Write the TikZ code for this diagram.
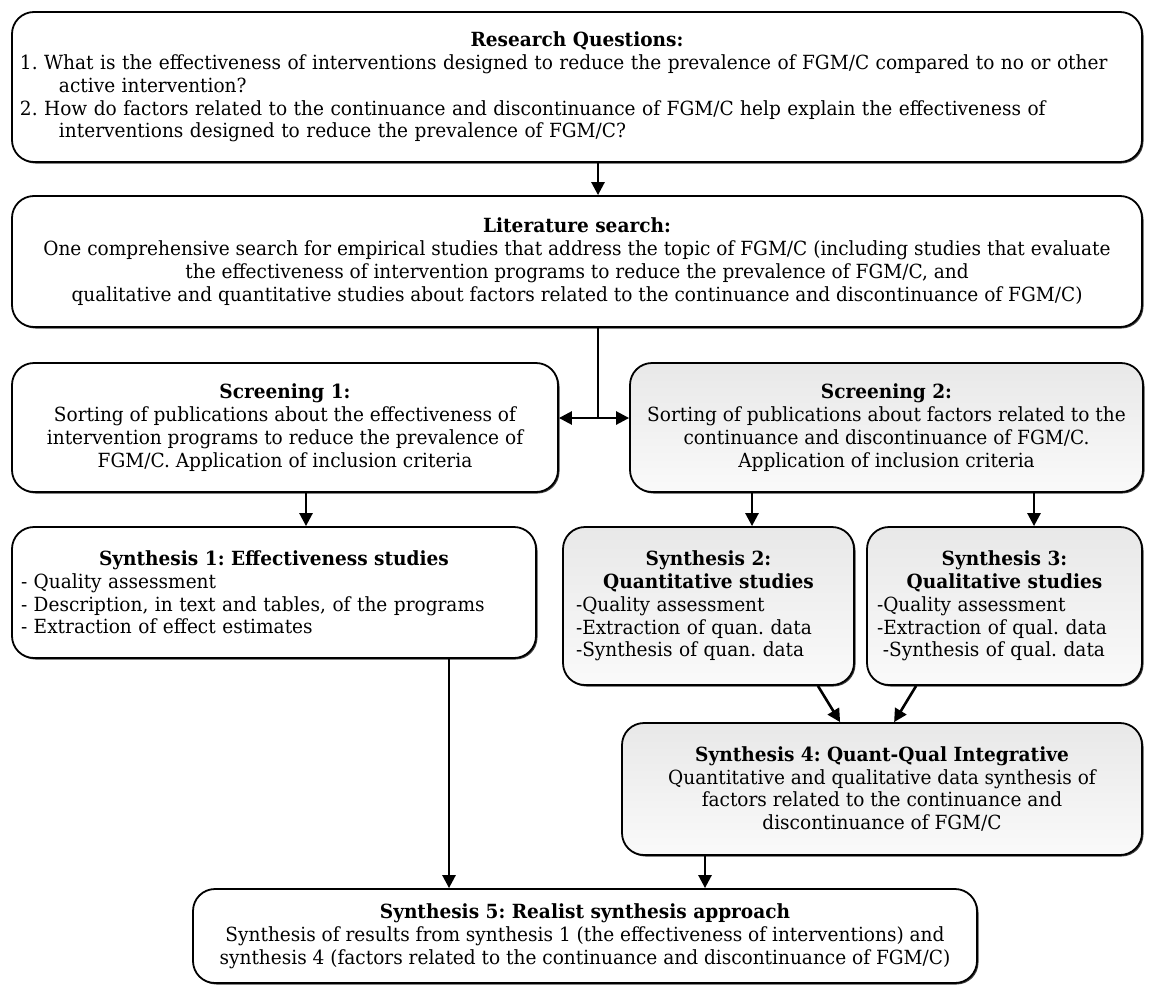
\documentclass[tikz,border=0pt]{standalone}
\usepackage{fontspec}
\setmainfont[FakeStretch=0.95]{DejaVu Serif}
\usetikzlibrary{arrows.meta,shadows,calc}
\newcommand\fsz{\fontsize{19.5}{22.8}\selectfont\frenchspacing}
\begin{document}
\begin{tikzpicture}[x=1pt,y=-1pt,
  box/.style={draw=black, line width=1.8pt, rounded corners=22pt, fill=white, inner sep=0pt, align=center, font=\fsz,
    drop shadow={shadow xshift=1.5pt, shadow yshift=-1.5pt, fill=black!75, opacity=1}},
  gbox/.style={box, top color=black!9, bottom color=black!2},
  arr/.style={line width=2.6pt, -{Triangle[length=13pt,width=13pt]}},
  darr/.style={line width=2.6pt, {Triangle[length=13pt,width=13pt]}-{Triangle[length=13pt,width=13pt]}},
  plain/.style={line width=2.6pt}
]
\useasboundingbox (0,0) rectangle (1150,985);

\node[box, minimum width=1130pt, minimum height=150pt, text width=1114pt, align=left] (rq) at (577,87)
 {\centerline{\bfseries Research Questions:}
  1. What is the effectiveness of interventions designed to reduce the prevalence of FGM/C compared to no or other\\
  \hspace*{2em}active intervention?\\
  2. How do factors related to the continuance and discontinuance of FGM/C help explain the effectiveness of\\
  \hspace*{2em}interventions designed to reduce the prevalence of FGM/C?};

\node[box, minimum width=1130pt, minimum height=131pt] (ls) at (577,261.5)
 {{\bfseries Literature search:}\\
  One comprehensive search for empirical studies that address the topic of FGM/C (including studies that evaluate\\
  the effectiveness of intervention programs to reduce the prevalence of FGM/C, and\\
  qualitative and quantitative studies about factors related to the continuance and discontinuance of FGM/C)};

\node[box, minimum width=546pt, minimum height=129pt] (s1) at (285,427.5)
 {{\bfseries Screening 1:}\\
  Sorting of publications about the effectiveness of\\
  intervention programs to reduce the prevalence of\\
  FGM/C. Application of inclusion criteria};

\node[gbox, minimum width=513pt, minimum height=129pt] (s2) at (886.5,427.5)
 {{\bfseries Screening 2:}\\
  Sorting of publications about factors related to the\\
  continuance and discontinuance of FGM/C.\\
  Application of inclusion criteria};

\node[box, minimum width=524pt, minimum height=131pt, text width=506pt, align=left] (y1) at (274,592.5)
 {\centerline{\bfseries Synthesis 1: Effectiveness studies}
  - Quality assessment\\
  - Description, in text and tables, of the programs\\
  - Extraction of effect estimates};

\node[gbox, minimum width=291pt, minimum height=158pt, text width=265pt, align=left] (y2) at (708.5,606)
 {\centerline{\bfseries Synthesis 2:}
  \centerline{\bfseries Quantitative studies}
  -Quality assessment\\
  -Extraction of quan. data\\
  -Synthesis of quan. data};

\node[gbox, minimum width=275pt, minimum height=158pt, text width=255pt, align=left] (y3) at (1004.5,606)
 {\centerline{\bfseries Synthesis 3:}
  \centerline{\bfseries Qualitative studies}
  -Quality assessment\\
  -Extraction of qual. data\\
  \hspace*{0.3em}-Synthesis of qual. data};

\node[gbox, minimum width=520pt, minimum height=132pt] (y4) at (882,789)
 {{\bfseries Synthesis 4: Quant-Qual Integrative}\\
  Quantitative and qualitative data synthesis of\\
  factors related to the continuance and\\
  discontinuance of FGM/C};

\node[box, minimum width=784pt, minimum height=94pt] (y5) at (585,936)
 {{\bfseries Synthesis 5: Realist synthesis approach}\\
  Synthesis of results from synthesis 1 (the effectiveness of interventions) and\\
  synthesis 4 (factors related to the continuance and discontinuance of FGM/C)};

\coordinate (j) at (598,418);
\draw[arr] (rq.south -| j) -- (ls.north -| j);
\draw[plain] (ls.south -| j) -- (j);
\draw[darr] (s1.east |- j) -- (s2.west |- j);
\draw[arr] (s1.south -| 306,0) -- (y1.north -| 306,0);
\draw[arr] (s2.south -| 752,0) -- (y2.north -| 752,0);
\draw[arr] (s2.south -| 1034,0) -- (y3.north -| 1034,0);
\draw[arr] ($(y2.south east)+(-37,0)$) -- ($(y4.north west)+(219,0)$);
\draw[arr] ($(y3.south west)+(50,0)$) -- ($(y4.north west)+(273,0)$);
\draw[arr] (y1.south -| 449,0) -- (y5.north -| 449,0);
\draw[arr] (y4.south -| 705,0) -- (y5.north -| 705,0);
\end{tikzpicture}
\end{document}
